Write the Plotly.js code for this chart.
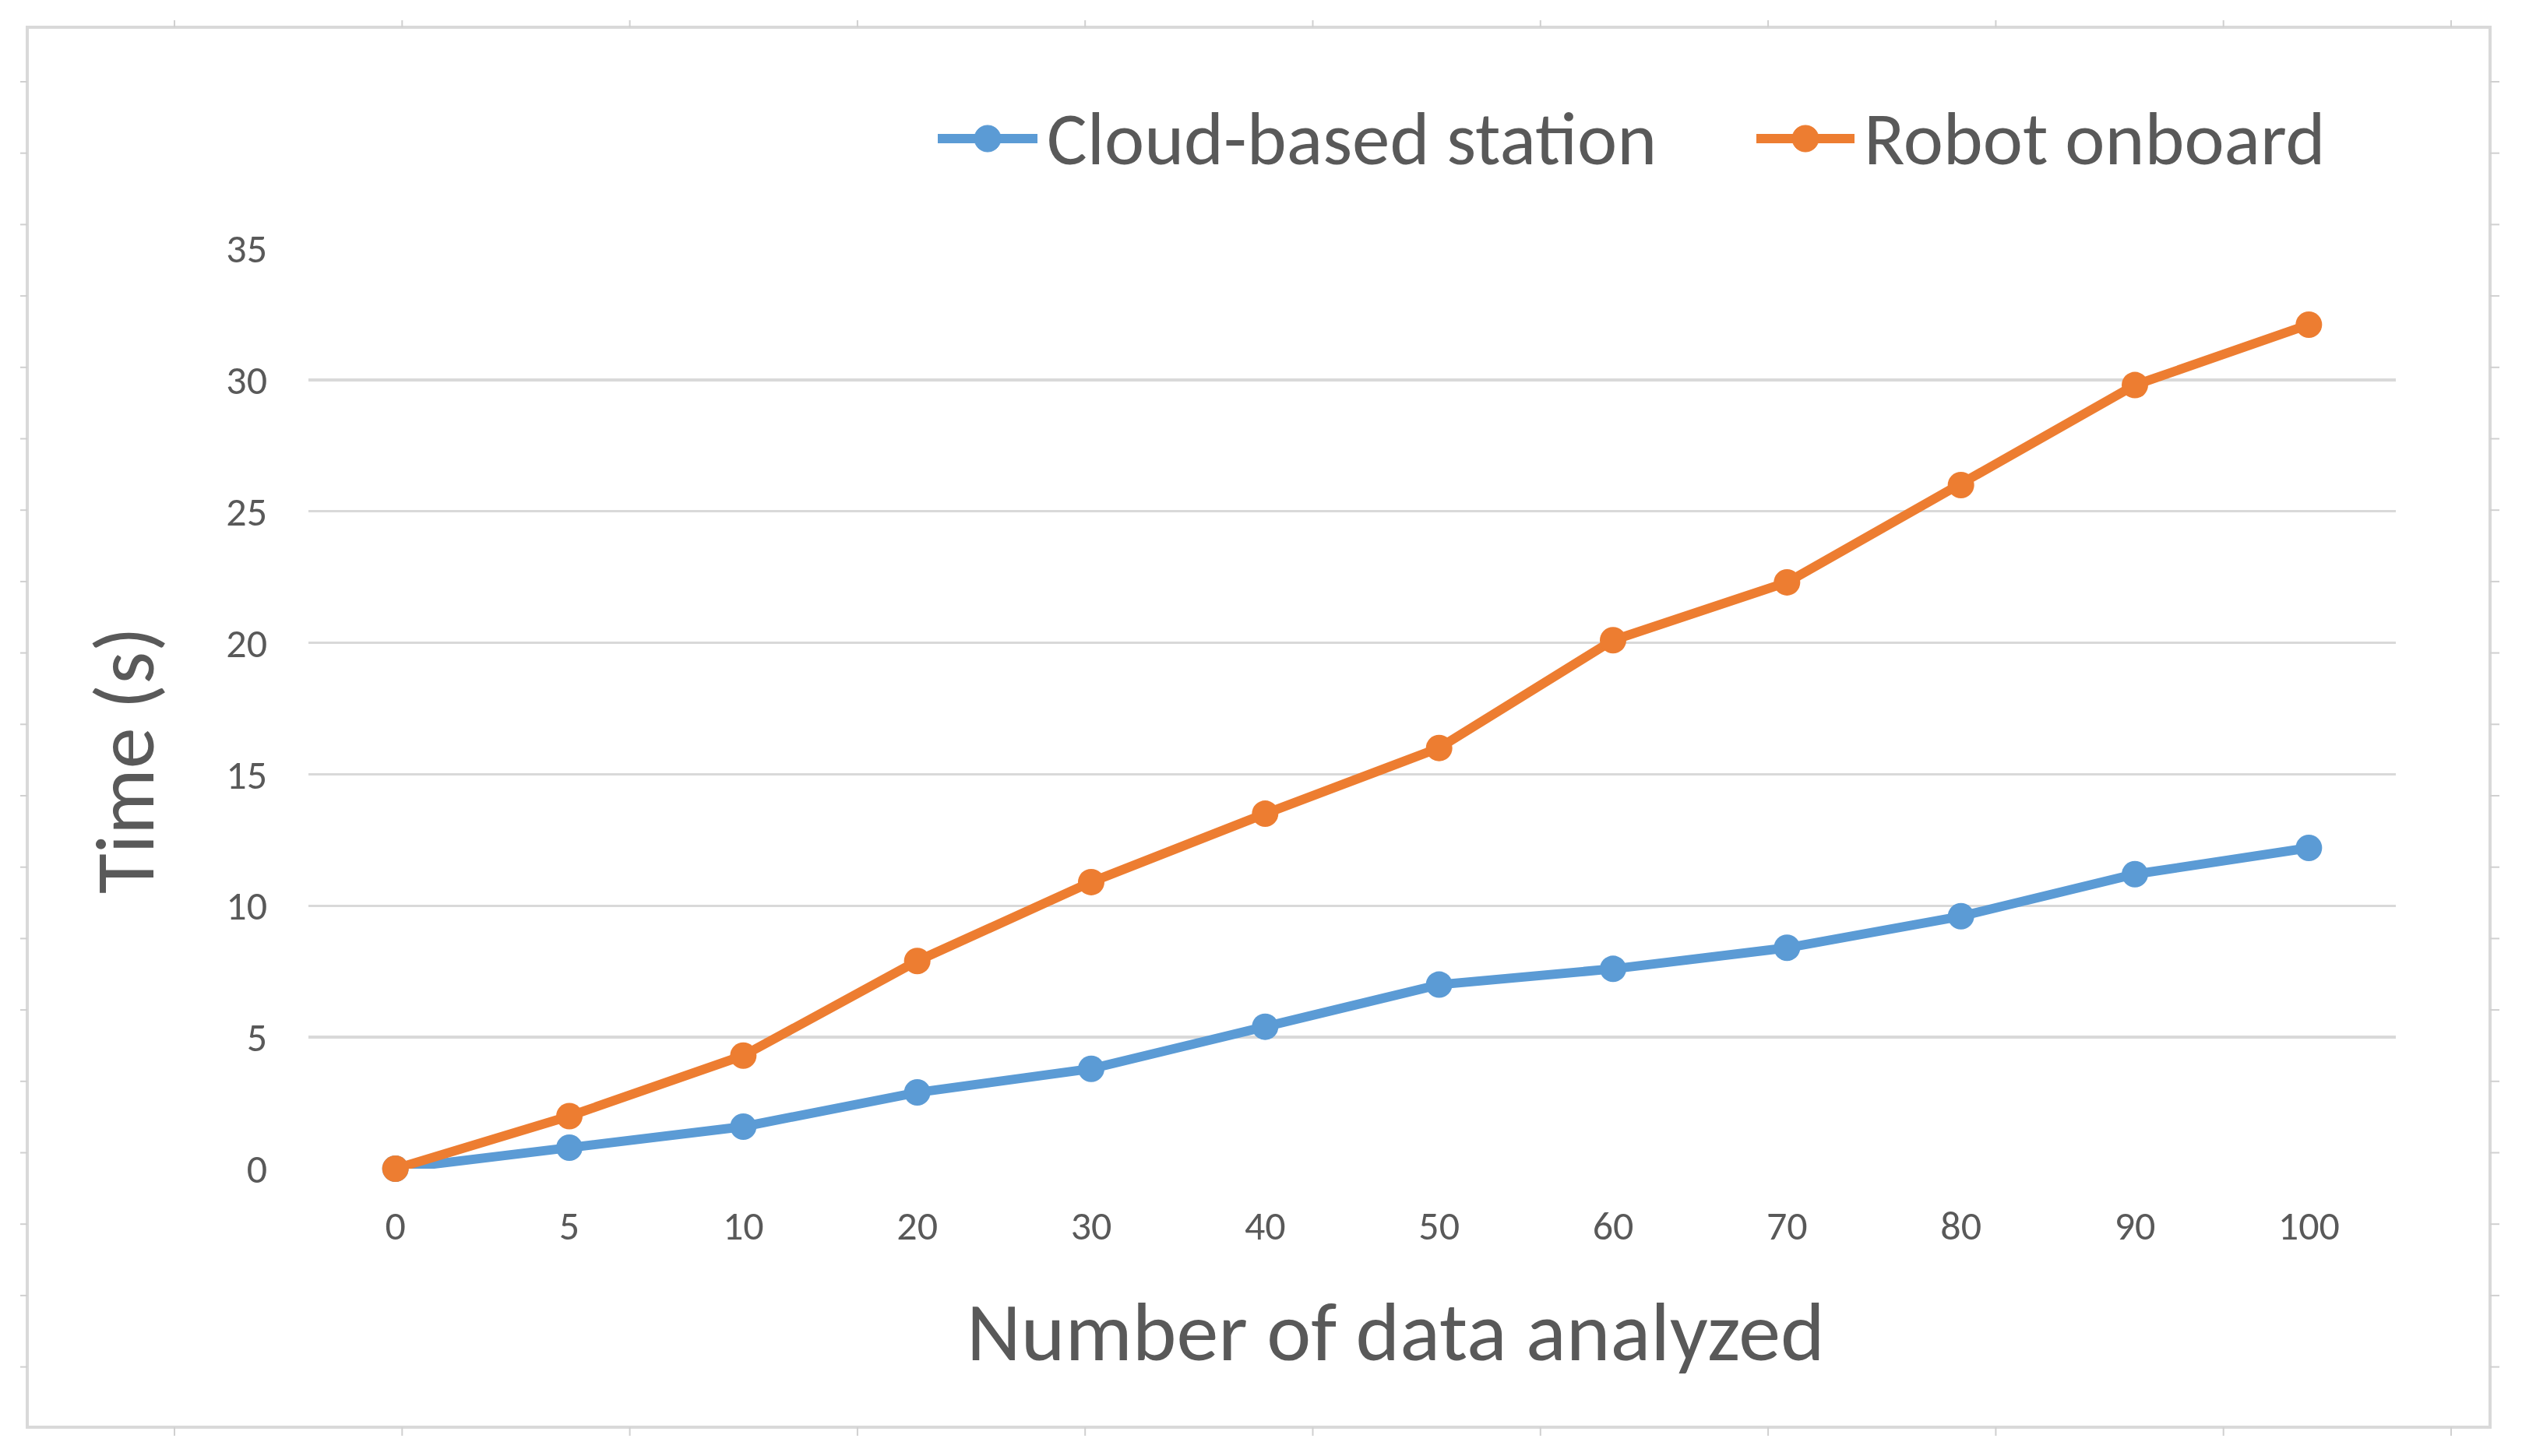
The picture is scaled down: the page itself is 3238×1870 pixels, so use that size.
<!DOCTYPE html>
<html>
<head>
<meta charset="utf-8">
<script src="https://cdn.plot.ly/plotly-3.0.1.min.js"></script>
<style>html,body{margin:0;padding:0;background:#fff;}#chart{width:3238px;height:1870px;}</style>
</head>
<body>
<div id="chart"></div>
<script>
// ---- data ----
const categories = ["0","5","10","20","30","40","50","60","70","80","90","100"];
const seriesNames = ["Cloud-based station", "Robot onboard"];
const cloudValues = [0, 0.8, 1.6, 2.9, 3.8, 5.4, 7.0, 7.6, 8.4, 9.6, 11.2, 12.2];
const robotValues = [0, 2.0, 4.3, 7.9, 10.9, 13.5, 16.0, 20.1, 22.3, 26.0, 29.8, 32.1];
const yTickValues = [0, 5, 10, 15, 20, 25, 30, 35];
const xTitle = "Number of data analyzed";
const yTitle = "Time (s)";

// ---- layout geometry (pixels) ----
const W = 3238, H = 1870;
const M = {l: 396, r: 162, t: 319, b: 369};
const PW = W - M.l - M.r, PH = H - M.t - M.b;
const px = v => (v - M.l) / PW;
const py = v => (H - M.b - v) / PH;

const FONT = "Carlito, Calibri, Lato, sans-serif";
const TXT = "#595959";
const COLORS = ["#5B9BD5", "#ED7D31"];
const LW = 12, MS = 34;

const shapes = [];
// outer frame
shapes.push({type:'rect', xref:'paper', yref:'paper', x0:px(35), x1:px(3197), y0:py(35), y1:py(1833),
  line:{color:'#d9d9d9', width:4}, layer:'below'});
// ruler ticks around the frame
for (let k = 0; k <= 10; k++) {
  const x = 224 + 292.3 * k;
  shapes.push({type:'line', xref:'paper', yref:'paper', x0:px(x), x1:px(x), y0:py(26), y1:py(35), line:{color:'#d0d0d0', width:2}});
  shapes.push({type:'line', xref:'paper', yref:'paper', x0:px(x), x1:px(x), y0:py(1833), y1:py(1844), line:{color:'#d0d0d0', width:2}});
}
for (let k = 0; k <= 18; k++) {
  const y = 105 + 91.7 * k;
  shapes.push({type:'line', xref:'paper', yref:'paper', x0:px(26), x1:px(35), y0:py(y), y1:py(y), line:{color:'#d0d0d0', width:2}});
  shapes.push({type:'line', xref:'paper', yref:'paper', x0:px(3197), x1:px(3209), y0:py(y), y1:py(y), line:{color:'#d0d0d0', width:2}});
}

// custom legend (line + marker symbol, then text)
const legendY = 178;
const legendItems = [
  {x0: 1204, x1: 1332, textX: 1342},
  {x0: 2255, x1: 2381, textX: 2391}
];
const annotations = [];
legendItems.forEach((it, i) => {
  shapes.push({type:'line', xref:'paper', yref:'paper', x0:px(it.x0), x1:px(it.x1), y0:py(legendY), y1:py(legendY),
    line:{color:COLORS[i], width:LW}});
  const cx = (it.x0 + it.x1) / 2;
  shapes.push({type:'circle', xref:'paper', yref:'paper', xsizemode:'pixel', ysizemode:'pixel',
    xanchor:px(cx), yanchor:py(legendY), x0:-MS/2, x1:MS/2, y0:-MS/2, y1:MS/2,
    fillcolor:COLORS[i], line:{color:COLORS[i], width:1}});
  annotations.push({text: seriesNames[i], xref:'paper', yref:'paper', x:px(it.textX), y:py(legendY),
    xanchor:'left', yanchor:'middle', showarrow:false, font:{family:FONT, size:97, color:TXT}});
});

annotations.push(
  {text: xTitle, xref:'paper', yref:'paper', x: px(1792), y: py(1710), xanchor:'center', yanchor:'middle',
   showarrow:false, font:{family:FONT, size:108, color:TXT}},
  {text: yTitle, xref:'paper', yref:'paper', x: px(161), y: py(977), xanchor:'center', yanchor:'middle',
   showarrow:false, textangle:-90, font:{family:FONT, size:106, color:TXT}}
);

const traces = [cloudValues, robotValues].map((vals, i) => ({
  type:'scatter', mode:'lines+markers', name:seriesNames[i], x:categories, y:vals,
  line:{color:COLORS[i], width:LW}, marker:{color:COLORS[i], size:MS}, cliponaxis:false
}));

const layout = {
  width: W, height: H,
  margin: M,
  paper_bgcolor: '#ffffff', plot_bgcolor: '#ffffff',
  font: {family: FONT, color: TXT, size: 52},
  showlegend: false,
  xaxis: {type:'category', range:[-0.5, 11.5], showgrid:false, zeroline:false, showline:false,
    ticks:'', tickfont:{family:FONT, size:52, color:TXT}, ticklabelstandoff: 38, fixedrange:true},
  yaxis: {range:[0, 35], tickvals: yTickValues, showgrid:true, gridcolor:'#d9d9d9', gridwidth:3.5,
    zeroline:false, showline:false, ticks:'', tickfont:{family:FONT, size:52, color:TXT},
    ticklabelstandoff: 52, fixedrange:true},
  shapes: shapes,
  annotations: annotations
};

Plotly.newPlot('chart', traces, layout, {displayModeBar:false, staticPlot:true});
</script>
</body>
</html>
